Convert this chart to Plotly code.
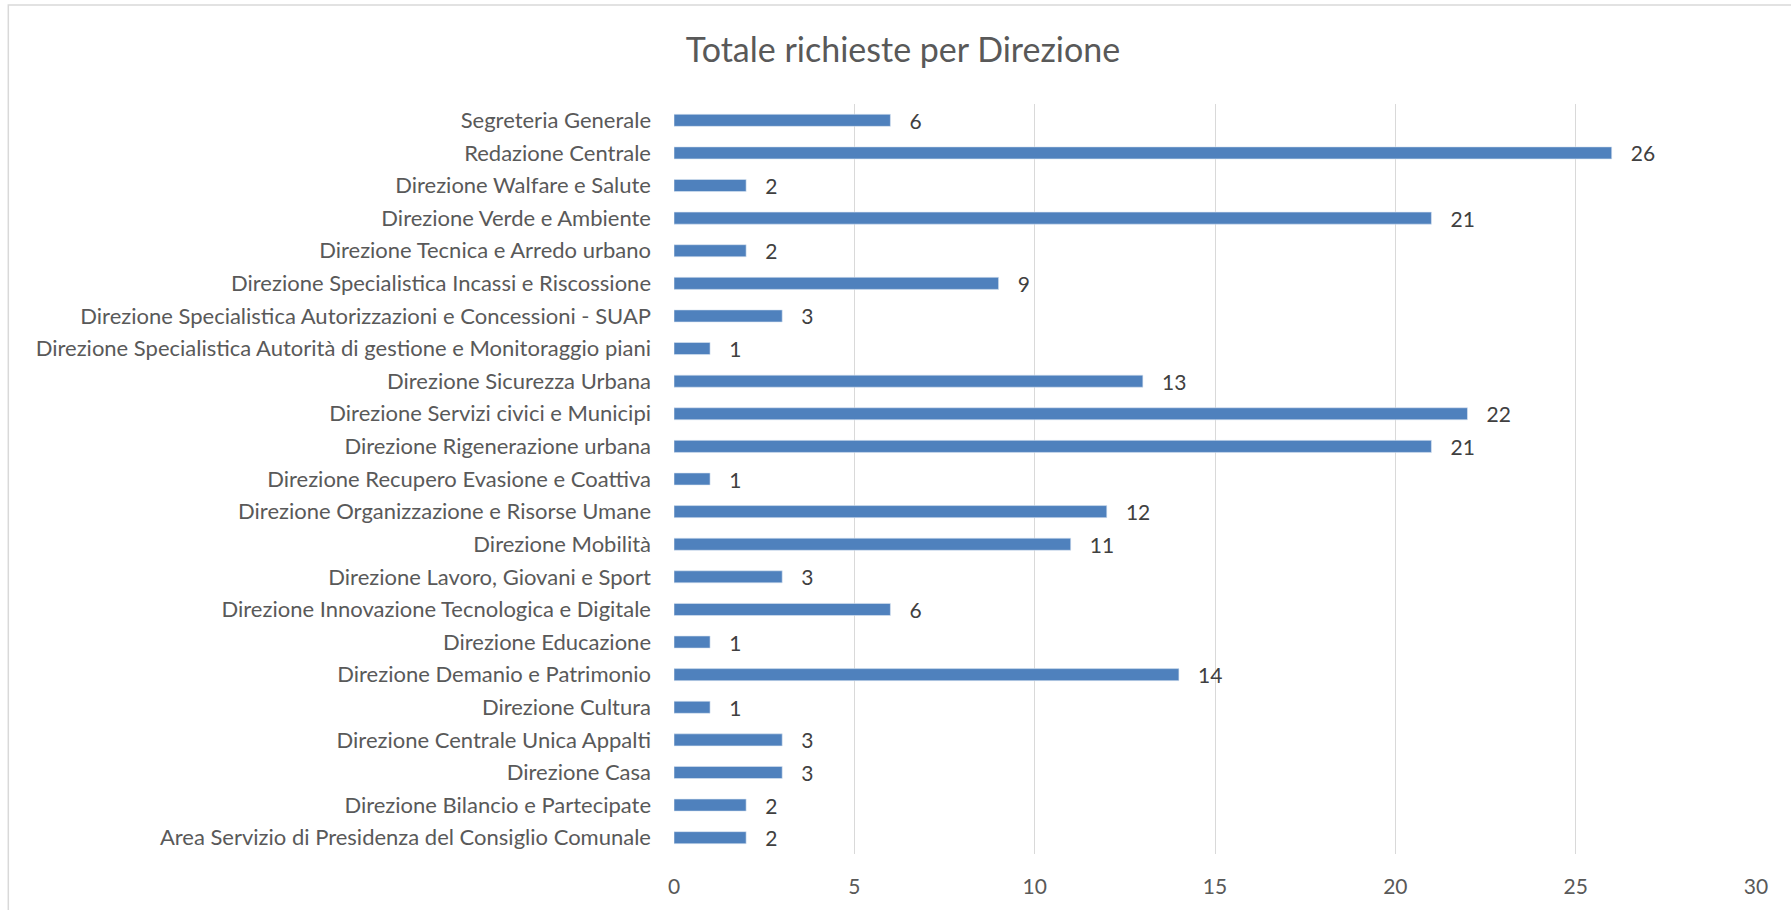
import plotly.graph_objects as go

# Data, top to bottom as shown in the chart
categories = [
    "Segreteria Generale",
    "Redazione Centrale",
    "Direzione Walfare e Salute",
    "Direzione Verde e Ambiente",
    "Direzione Tecnica e Arredo urbano",
    "Direzione Specialistica Incassi e Riscossione",
    "Direzione Specialistica Autorizzazioni e Concessioni - SUAP",
    "Direzione Specialistica Autorità di gestione e Monitoraggio piani",
    "Direzione Sicurezza Urbana",
    "Direzione Servizi civici e Municipi",
    "Direzione Rigenerazione urbana",
    "Direzione Recupero Evasione e Coattiva",
    "Direzione Organizzazione e Risorse Umane",
    "Direzione Mobilità",
    "Direzione Lavoro, Giovani e Sport",
    "Direzione Innovazione Tecnologica e Digitale",
    "Direzione Educazione",
    "Direzione Demanio e Patrimonio",
    "Direzione Cultura",
    "Direzione Centrale Unica Appalti",
    "Direzione Casa",
    "Direzione Bilancio e Partecipate",
    "Area Servizio di Presidenza del Consiglio Comunale",
]
richieste = [6, 26, 2, 21, 2, 9, 3, 1, 13, 22, 21, 1, 12, 11, 3, 6, 1, 14, 1, 3, 3, 2, 2]
x_ticks = [0, 5, 10, 15, 20, 25, 30]

W, H = 1791, 910
FONT = "Lato"
TEXT_COLOR = "#595959"

fig = go.Figure()

fig.add_trace(go.Bar(
    x=richieste,
    y=categories,
    orientation="h",
    marker=dict(color="#4f81bd", line=dict(color="#dbe5f1", width=0.6)),
    text=richieste,
    texttemplate="   %{text}",
    textposition="outside",
    constraintext="none",
    textfont=dict(family=FONT, size=21, color="#404040"),
    cliponaxis=False,
    hovertemplate="%{y}: %{x}<extra></extra>",
))

# plot area in pixels
left, right, top, bottom = 674, 1756.5, 104, 854
pw, ph = right - left, bottom - top

fig.update_layout(
    width=W,
    height=H,
    margin=dict(l=left, r=W - right, t=top, b=H - bottom, pad=0),
    paper_bgcolor="white",
    plot_bgcolor="white",
    showlegend=False,
    bargap=0.63,
    font=dict(family=FONT, color=TEXT_COLOR),
    title=dict(
        text="Totale richieste per Direzione",
        x=903 / W,
        xanchor="center",
        y=1 - 50 / H,
        yanchor="middle",
        font=dict(family=FONT, size=34, color=TEXT_COLOR),
    ),
    xaxis=dict(
        range=[0, 30],
        tickmode="array",
        tickvals=x_ticks,
        showgrid=True,
        gridcolor="#d9d9d9",
        gridwidth=1.3,
        zeroline=False,
        showline=False,
        ticks="",
        ticklabelstandoff=18,
        tickfont=dict(family=FONT, size=21, color=TEXT_COLOR),
    ),
    yaxis=dict(
        autorange="reversed",
        showgrid=False,
        zeroline=False,
        showline=False,
        ticks="",
        ticklabelstandoff=22,
        tickfont=dict(family=FONT, size=22, color=TEXT_COLOR),
    ),
    shapes=[
        # outer chart frame (cropped at right and bottom)
        dict(
            type="rect",
            xref="paper", yref="paper",
            x0=(8 - left) / pw, x1=(W + 5 - left) / pw,
            y0=(bottom - (H + 5)) / ph, y1=(bottom - 5) / ph,
            line=dict(color="#d9d9d9", width=1.5),
            fillcolor="rgba(0,0,0,0)",
            layer="below",
        )
    ],
)

fig.write_html(
    "out.html",
    config={"displayModeBar": False},
    post_script="document.body.style.margin='0';",
)
